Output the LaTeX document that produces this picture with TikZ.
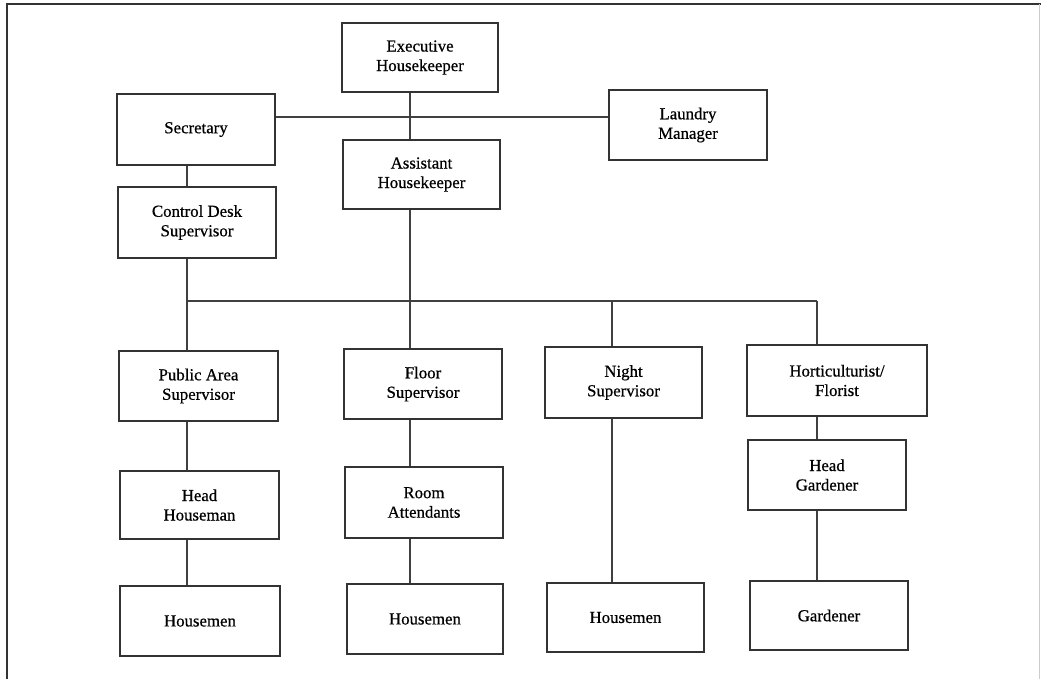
\documentclass[tikz,border=0pt]{standalone}
\usepackage{fontspec}
\setmainfont{Liberation Serif}
\newfontfamily\chartfont[FakeBold=0.6]{Liberation Serif}
\begin{document}
\begin{tikzpicture}[x=1pt,y=-1pt,
  post/.style={draw=black!80, line width=1.4pt, fill=white, align=center,
    inner sep=0pt, font=\chartfont\fontsize{16.8}{19.5}\selectfont},
  size/.style 2 args={minimum width=#1pt, minimum height=#2pt},
  link/.style={draw=black!75, line width=1.4pt},
  frame/.style={line width=2pt}]
\useasboundingbox (0,0) rectangle (1041,679);
\fill[white] (0,0) rectangle (1041,679);

% page frame
\draw[frame, black!80] (7,679) -- (7,4) -- (1041,4);
\draw[black!20, line width=1pt] (1039,4) -- (1039,679);

% management level
\node[post, size={156}{69}] (exec)    at (420,57.5)  {Executive\\Housekeeper};
\node[post, size={158}{71}] (sec)     at (196,129.5) {Secretary};
\node[post, size={158}{70}] (laundry) at (688,125)   {Laundry\\Manager};
\node[post, size={157}{69}] (asst)    at (421.5,174.5) {Assistant\\Housekeeper};
\node[post, size={158}{71}] (ctrl)    at (197,222.5) {Control Desk\\Supervisor};

% supervisors
\node[post, size={159}{70}] (public) at (198.5,386) {Public Area\\Supervisor};
\node[post, size={158}{70}] (floor)  at (423,384)   {Floor\\Supervisor};
\node[post, size={157}{71}] (night)  at (623.5,382.5) {Night\\Supervisor};
\node[post, size={180}{71}] (hort)   at (837,380.5) {Horticulturist/\\Florist};

% second line
\node[post, size={159}{68}] (headh) at (199.5,505) {Head\\Houseman};
\node[post, size={158}{71}] (room)  at (424,502.5) {Room\\Attendants};
\node[post, size={158}{70}] (headg) at (827,475)   {Head\\Gardener};

% staff
\node[post, size={160}{70}] (hm1)  at (200,621)   {Housemen};
\node[post, size={156}{70}] (hm2)  at (425,619)   {Housemen};
\node[post, size={157}{69}] (hm3)  at (625.5,617.5) {Housemen};
\node[post, size={158}{69}] (gard) at (829,615.5) {Gardener};

% connector guides
\coordinate (xl) at (187,0);
\coordinate (xm) at (410,0);
\coordinate (xn) at (612,0);
\coordinate (xh) at (817,0);
\coordinate (ytop) at (0,117);
\coordinate (ybar) at (0,301);

% top of the chart
\draw[link] (exec.south -| xm) -- (asst.north -| xm);
\draw[link] (sec.east |- ytop) -- (laundry.west |- ytop);
\draw[link] (sec.south -| xl) -- (ctrl.north -| xl);

% branch bar
\draw[link] (ctrl.south -| xl) -- (xl |- ybar) -- (xh |- ybar);
\draw[link] (asst.south -| xm) -- (floor.north -| xm);
\draw[link] (xl |- ybar) -- (public.north -| xl);
\draw[link] (xn |- ybar) -- (night.north -| xn);
\draw[link] (xh |- ybar) -- (hort.north -| xh);

% columns
\draw[link] (public.south -| xl) -- (headh.north -| xl);
\draw[link] (headh.south -| xl) -- (hm1.north -| xl);
\draw[link] (floor.south -| xm) -- (room.north -| xm);
\draw[link] (room.south -| xm) -- (hm2.north -| xm);
\draw[link] (night.south -| xn) -- (hm3.north -| xn);
\draw[link] (hort.south -| xh) -- (headg.north -| xh);
\draw[link] (headg.south -| xh) -- (gard.north -| xh);
\end{tikzpicture}
\end{document}
